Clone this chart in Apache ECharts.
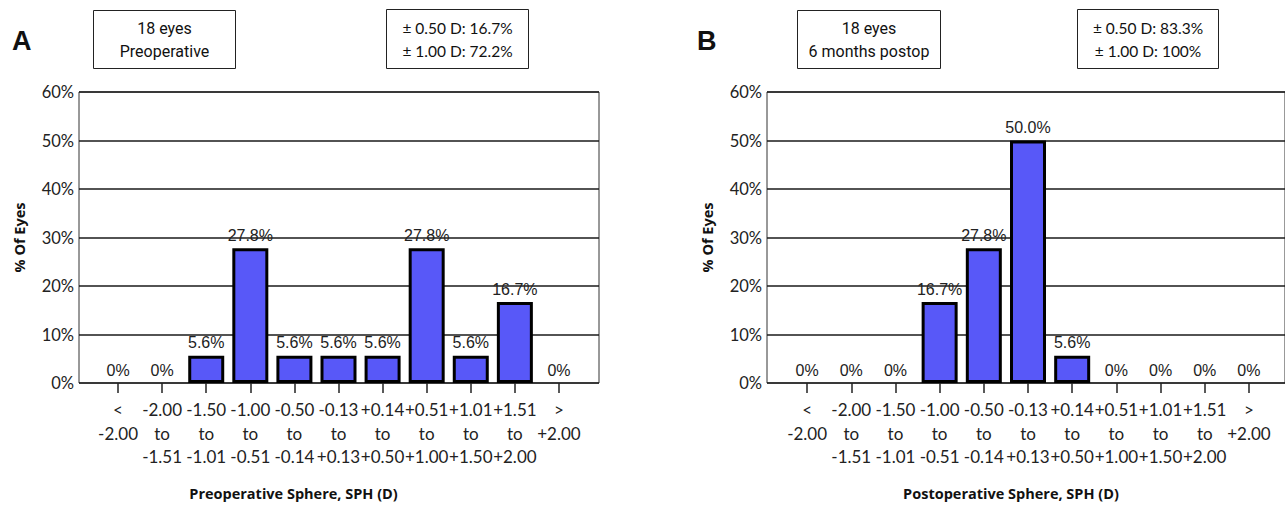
<!DOCTYPE html>
<html>
<head>
<meta charset="utf-8">
<script src="https://cdn.jsdelivr.net/npm/echarts@6/dist/echarts.min.js"></script>
<style>
html,body{margin:0;padding:0;background:#fff;}
#chart{width:1285px;height:508px;}
</style>
</head>
<body>
<div id="chart"></div>
<script>
// ---- data ----
const categories = [
  '<\n-2.00', '-2.00\nto\n-1.51', '-1.50\nto\n-1.01', '-1.00\nto\n-0.51',
  '-0.50\nto\n-0.14', '-0.13\nto\n+0.13', '+0.14\nto\n+0.50', '+0.51\nto\n+1.00',
  '+1.01\nto\n+1.50', '+1.51\nto\n+2.00', '>\n+2.00'
];
const preValues  = [0, 0, 5.6, 27.8, 5.6, 5.6, 5.6, 27.8, 5.6, 16.7, 0];
const postValues = [0, 0, 0, 16.7, 27.8, 50.0, 5.6, 0, 0, 0, 0];
const yTicks = [0, 10, 20, 30, 40, 50, 60];
const panelLetters = ['A', 'B'];
const infoBoxA = ['18 eyes\nPreoperative', '± 0.50 D: 16.7%\n± 1.00 D: 72.2%'];
const infoBoxB = ['18 eyes\n6 months postop', '± 0.50 D: 83.3%\n± 1.00 D: 100%'];
const xTitles = ['Preoperative Sphere, SPH (D)', 'Postoperative Sphere, SPH (D)'];
const yTitle = '% Of Eyes';

// ---- styling ----
const barColor = '#5858F8';
const ink = '#1a1a1a';
const labelFont = 'Lato, "Open Sans", sans-serif';
const dataFont = '"Liberation Sans", Arial, sans-serif';

function makeData(vals) {
  return vals.map(v => v === 0
    ? { value: v, itemStyle: { borderWidth: 0 } }
    : { value: v });
}

const chart = echarts.init(document.getElementById('chart'), null, { renderer: 'svg' });

function frameGrid(left, width) {
  return { left: left, top: 92, width: width, height: 291, show: true,
           borderColor: '#333', borderWidth: 1, backgroundColor: 'transparent' };
}
function barGrid(left, width) {
  return { left: left, top: 92, width: width, height: 291 };
}

function frameYAxis(gridIndex) {
  return {
    type: 'value', gridIndex: gridIndex, min: yTicks[0], max: yTicks[yTicks.length - 1], interval: 10,
    axisLine: { show: false }, axisTick: { show: false },
    axisLabel: { formatter: '{value}%', fontFamily: labelFont, fontSize: 16.5, color: '#222', margin: 5 },
    splitLine: { show: true, lineStyle: { color: ink, width: 1.5 } },
    name: yTitle, nameLocation: 'middle', nameGap: 52, nameRotate: 90,
    nameTextStyle: { fontFamily: '"Open Sans", sans-serif', fontWeight: 'bold', fontSize: 14.5, color: '#111' }
  };
}
function hiddenYAxis(gridIndex) {
  return { type: 'value', gridIndex: gridIndex, min: 0, max: 60, show: false, splitLine: { show: false } };
}
function hiddenXAxis(gridIndex) {
  return { type: 'value', gridIndex: gridIndex, show: false, min: 0, max: 1, splitLine: { show: false } };
}
function catXAxis(gridIndex, title, shift) {
  return {
    type: 'category', gridIndex: gridIndex, data: categories,
    axisLine: { show: false },
    axisTick: { show: true, alignWithLabel: true, length: 10, lineStyle: { color: '#222', width: 1.5 } },
    axisLabel: { interval: 0, fontFamily: labelFont, fontSize: 17, color: '#222', lineHeight: 23.5, margin: 15 },
    name: title, nameLocation: 'middle', nameGap: 103,
    nameTextStyle: { fontFamily: '"Open Sans", sans-serif', fontWeight: 'bold', fontSize: 14.5, color: '#111',
                     padding: [0, shift, 0, 0] }
  };
}
function barSeries(xi, yi, vals) {
  return {
    type: 'bar', xAxisIndex: xi, yAxisIndex: yi, data: makeData(vals), barWidth: 36,
    itemStyle: { color: barColor, borderColor: '#000', borderWidth: 3 },
    label: { show: true, position: 'top', distance: 5, fontFamily: dataFont, fontSize: 16, color: '#222',
             formatter: p => p.value === 0 ? '0%' : p.value.toFixed(1) + '%' },
    z: 3
  };
}

function box(x, y, w, h, text, font) {
  return {
    type: 'group', left: x, top: y,
    children: [
      { type: 'rect', shape: { x: 0, y: 0, width: w, height: h },
        style: { fill: '#fff', stroke: '#222', lineWidth: 1 } },
      { type: 'text', x: w / 2, y: h / 2,
        style: { text: text, font: font, fill: '#111', align: 'center', verticalAlign: 'middle', lineHeight: 23 } }
    ]
  };
}

const option = {
  animation: false,
  backgroundColor: '#fff',
  grid: [frameGrid(79, 520), barGrid(96, 485), frameGrid(767, 522), barGrid(785, 486)],
  xAxis: [hiddenXAxis(0), catXAxis(1, xTitles[0], 90), hiddenXAxis(2), catXAxis(3, xTitles[1], 34)],
  yAxis: [frameYAxis(0), hiddenYAxis(1), frameYAxis(2), hiddenYAxis(3)],
  series: [barSeries(1, 1, preValues), barSeries(3, 3, postValues)],
  graphic: [
    { type: 'text', left: 12, top: 27, style: { text: panelLetters[0], font: 'bold 27px "Liberation Sans", Arial, sans-serif', fill: '#111' } },
    { type: 'text', left: 697, top: 27, style: { text: panelLetters[1], font: 'bold 27px "Liberation Sans", Arial, sans-serif', fill: '#111' } },
    box(93, 10, 142, 58, infoBoxA[0], '16px "Liberation Sans Narrow", Roboto, sans-serif'),
    box(386, 9, 142, 59, infoBoxA[1], '15.5px Lato, sans-serif'),
    box(797, 10, 143, 58, infoBoxB[0], '16px "Liberation Sans Narrow", Roboto, sans-serif'),
    box(1077, 9, 141, 59, infoBoxB[1], '15.5px Lato, sans-serif')
  ]
};
chart.setOption(option);
</script>
</body>
</html>
